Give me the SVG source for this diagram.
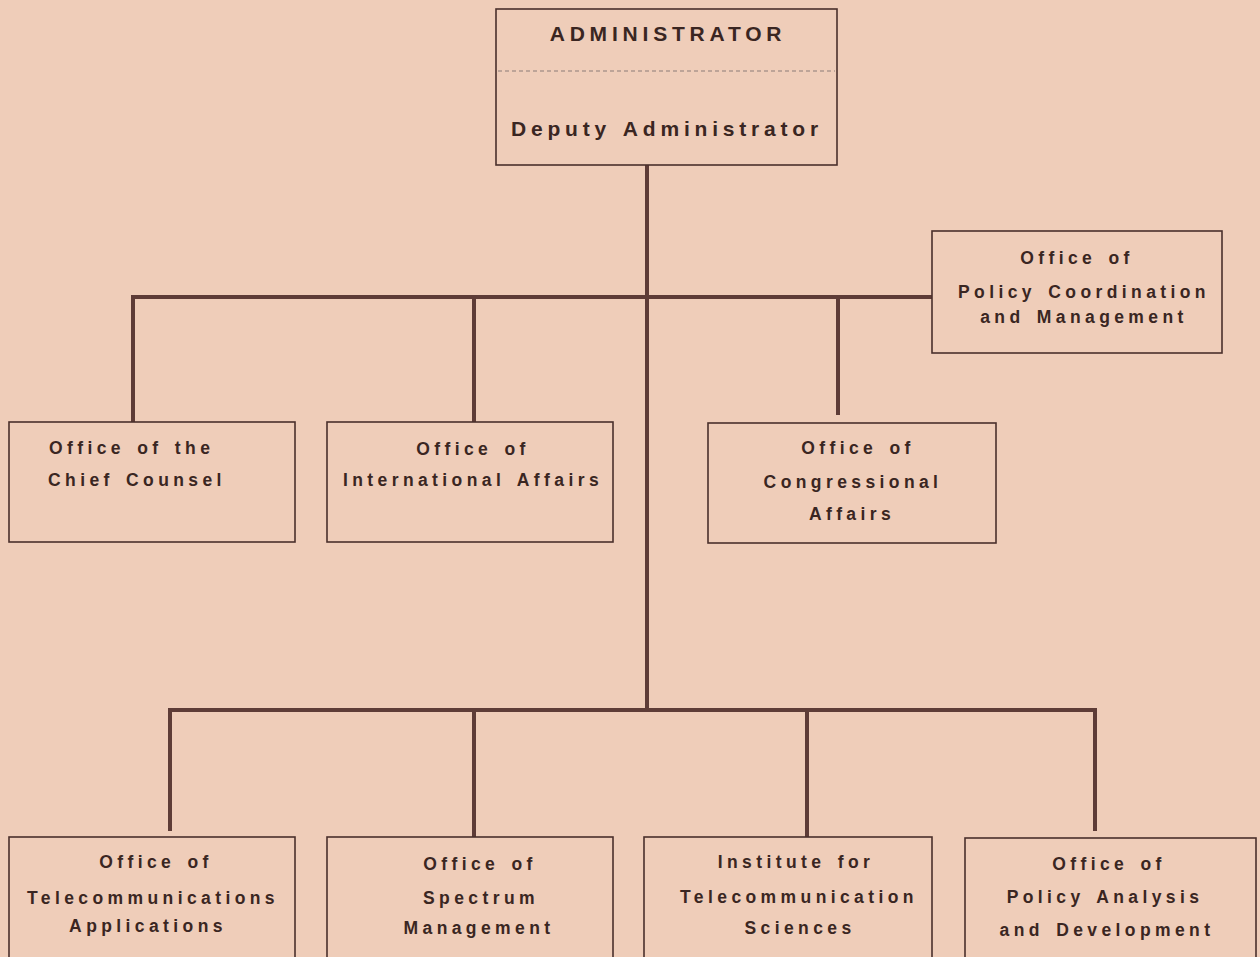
<svg xmlns="http://www.w3.org/2000/svg" width="1260" height="957" viewBox="0 0 1260 957">
<style>
.box{fill:none;stroke:#4a302c;stroke-width:1.6}
.t{font-family:"Liberation Sans",Arial,sans-serif;font-weight:bold;font-size:17.5px;letter-spacing:4.4px;word-spacing:3px;fill:#3a2622;text-anchor:middle}
.tl{text-anchor:start}
.big{font-size:21px;letter-spacing:4.8px;word-spacing:2px}
.c{stroke:#5e3c37;stroke-width:4;fill:none;stroke-linecap:butt}
</style>
<rect width="1260" height="957" fill="#efcdb9"/>
<g id="connectors">
<path class="c" d="M647 165V710"/>
<path class="c" d="M131 297H932"/>
<path class="c" d="M133 297V422"/>
<path class="c" d="M474 297V422"/>
<path class="c" d="M838 297V415"/>
<path class="c" d="M168 710H1097"/>
<path class="c" d="M170 710V831"/>
<path class="c" d="M474 710V837"/>
<path class="c" d="M807 710V837"/>
<path class="c" d="M1095 710V831"/>
</g>
<g id="administrator">
<rect class="box" x="496" y="9" width="341" height="156"/>
<line x1="498" y1="71" x2="835" y2="71" stroke="#8c7c78" stroke-width="1.2" stroke-dasharray="4 3"/>
<text class="t big" x="668" y="41">ADMINISTRATOR</text>
<text class="t big" x="667" y="136">Deputy Administrator</text>
</g>
<g id="policy-coordination">
<rect class="box" x="932" y="231" width="290" height="122"/>
<text class="t" x="1077" y="264">Office of</text>
<text class="t" x="1084" y="298">Policy Coordination</text>
<text class="t" x="1084" y="323">and Management</text>
</g>
<g id="chief-counsel">
<rect class="box" x="9" y="422" width="286" height="120"/>
<text class="t tl" x="49" y="454">Office of the</text>
<text class="t tl" x="48" y="486">Chief Counsel</text>
</g>
<g id="international-affairs">
<rect class="box" x="327" y="422" width="286" height="120"/>
<text class="t" x="473" y="455">Office of</text>
<text class="t" x="473" y="486">International Affairs</text>
</g>
<g id="congressional-affairs">
<rect class="box" x="708" y="423" width="288" height="120"/>
<text class="t" x="858" y="454">Office of</text>
<text class="t" x="853" y="488">Congressional</text>
<text class="t" x="852" y="520">Affairs</text>
</g>
<g id="telecommunications-applications">
<rect class="box" x="9" y="837" width="286" height="130"/>
<text class="t" x="156" y="868">Office of</text>
<text class="t" x="153" y="904">Telecommunications</text>
<text class="t" x="148" y="932">Applications</text>
</g>
<g id="spectrum-management">
<rect class="box" x="327" y="837" width="286" height="130"/>
<text class="t" x="480" y="870">Office of</text>
<text class="t" x="481" y="904">Spectrum</text>
<text class="t" x="479" y="934">Management</text>
</g>
<g id="telecommunication-sciences">
<rect class="box" x="644" y="837" width="288" height="130"/>
<text class="t" x="796" y="868">Institute for</text>
<text class="t" x="799" y="903">Telecommunication</text>
<text class="t" x="800" y="934">Sciences</text>
</g>
<g id="policy-analysis">
<rect class="box" x="965" y="838" width="291" height="130"/>
<text class="t" x="1109" y="870">Office of</text>
<text class="t" x="1105" y="903">Policy Analysis</text>
<text class="t" x="1107" y="936">and Development</text>
</g>
</svg>
